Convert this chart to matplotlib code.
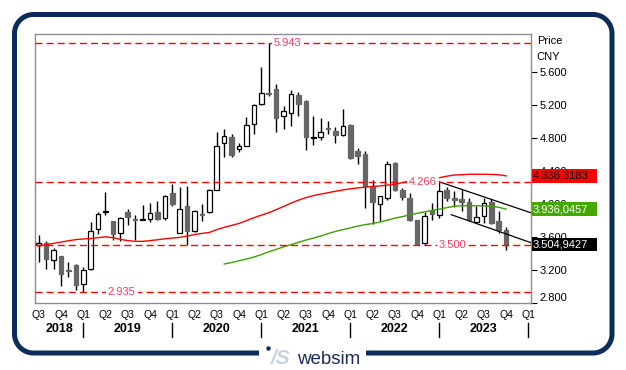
import numpy as np
import matplotlib
matplotlib.use("Agg")
import matplotlib.pyplot as plt
from matplotlib.patches import Rectangle
from matplotlib.transforms import blended_transform_factory

plt.rcParams['font.family'] = ['Liberation Sans', 'DejaVu Sans']

# ---------------- data (monthly candles, Jul 2018 .. Oct 2023) ----------------
opens = [3.505, 3.528, 3.326, 3.374, 3.200, 3.265, 3.024, 3.217, 3.697, 3.902,
         3.788, 3.648, 3.906, 3.812, 3.806, 3.817, 3.897, 3.833, 4.127, 3.648,
         3.978, 3.676, 3.870, 3.902, 4.171, 4.735, 4.811, 4.663, 4.703, 4.965,
         5.206, 5.346, 5.395, 5.057, 5.098, 5.319, 5.246, 4.798, 4.808, 4.912,
         4.884, 4.827, 4.956, 4.642, 4.606, 4.211, 3.999, 4.071, 4.494, 4.163,
         4.071, 3.809, 3.528, 3.930, 3.861, 4.171, 4.071, 4.063, 4.018, 3.785,
         3.849, 4.023, 3.797, 3.688]
highs = [3.628, 3.547, 3.467, 3.374, 3.298, 3.274, 3.233, 3.781, 3.897, 4.139,
         3.797, 3.837, 3.938, 3.861, 3.990, 4.011, 4.038, 4.107, 4.240, 4.199,
         4.220, 3.930, 3.998, 4.180, 4.875, 4.904, 4.844, 4.735, 5.053, 5.206,
         5.657, 5.943, 5.448, 5.186, 5.379, 5.351, 5.255, 5.065, 5.037, 5.005,
         4.928, 5.150, 4.968, 4.675, 4.642, 4.292, 4.099, 4.513, 4.501, 4.192,
         4.131, 3.809, 3.902, 4.011, 4.266, 4.204, 4.151, 4.171, 4.071, 3.970,
         4.071, 4.059, 3.909, 3.716]
lows = [3.293, 3.214, 3.206, 3.003, 3.117, 2.963, 2.935, 3.205, 3.640, 3.869,
        3.559, 3.555, 3.749, 3.567, 3.801, 3.785, 3.801, 3.809, 3.970, 3.648,
        3.499, 3.656, 3.797, 3.890, 4.171, 4.561, 4.561, 4.630, 4.703, 4.844,
        5.194, 5.310, 4.872, 4.904, 4.936, 5.057, 4.654, 4.715, 4.775, 4.848,
        4.735, 4.815, 4.546, 4.485, 3.950, 3.761, 3.788, 4.042, 4.150, 4.050,
        3.795, 3.500, 3.507, 3.801, 3.830, 4.030, 3.962, 3.909, 3.797, 3.785,
        3.769, 3.761, 3.648, 3.447]
closes = [3.525, 3.334, 3.447, 3.153, 3.187, 3.015, 3.205, 3.676, 3.878, 3.912,
          3.636, 3.829, 3.842, 3.806, 3.812, 3.893, 3.821, 4.099, 4.002, 3.938,
          3.676, 3.918, 3.862, 4.168, 4.702, 4.822, 4.590, 4.703, 4.953, 5.198,
          5.346, 5.330, 5.044, 5.122, 5.327, 5.210, 4.808, 4.808, 4.868, 4.904,
          4.827, 4.944, 4.554, 4.573, 4.211, 4.018, 4.090, 4.482, 4.163, 4.083,
          3.809, 3.516, 3.849, 3.881, 4.159, 4.071, 4.042, 4.023, 3.801, 3.841,
          4.011, 3.769, 3.688, 3.505]

ma_red = [3.488, 3.507, 3.522, 3.537, 3.553, 3.567, 3.575, 3.580, 3.591, 3.600,
          3.591, 3.570, 3.555, 3.546, 3.546, 3.555, 3.565, 3.577, 3.586, 3.594,
          3.610, 3.628, 3.642, 3.654, 3.688, 3.716, 3.739, 3.763, 3.797, 3.831,
          3.863, 3.893, 3.930, 3.968, 4.008, 4.044, 4.075, 4.099, 4.117, 4.135,
          4.152, 4.168, 4.181, 4.193, 4.202, 4.210, 4.217, 4.226, 4.238, 4.256,
          4.274, 4.286, 4.294, 4.304, 4.316, 4.334, 4.349, 4.352, 4.358, 4.358,
          4.358, 4.356, 4.352, 4.338]
ma_green_start = 25
ma_green = [3.272, 3.290, 3.311, 3.332, 3.356, 3.386, 3.419, 3.449, 3.479, 3.507,
            3.534, 3.561, 3.585, 3.610, 3.640, 3.666, 3.688, 3.709, 3.730, 3.749,
            3.761, 3.779, 3.803, 3.827, 3.845, 3.867, 3.885, 3.903, 3.920, 3.936,
            3.954, 3.970, 3.978, 3.978, 3.978, 3.975, 3.970, 3.958, 3.936]

quarter_labels = ['Q3', 'Q4'] + ['Q1', 'Q2', 'Q3', 'Q4'] * 5 + ['Q1']
year_labels = ['2018', '2019', '2020', '2021', '2022', '2023']
year_bounds = [-0.5, 6, 18, 30, 42, 54, 66]

ref_levels = [5.943, 4.266, 3.500, 2.935]
ref_texts = ['5.943', '4.266', '3.500', '2.935']

channel_upper_x = [54.0, 66.4]
channel_upper_y = [4.266, 3.890]
channel_lower_x = [55.6, 66.4]
channel_lower_y = [3.869, 3.528]

last_values = [4.338, 3.936, 3.505]
last_texts = ['4.338,3183', '3.936,0457', '3.504,9427']
last_colors = ['#ff0000', '#44a800', '#000000']
last_text_colors = ['#000000', '#ffffff', '#ffffff']

y_ticks = [2.8, 3.2, 3.6, 4.0, 4.4, 4.8, 5.2, 5.6]

# ---------------- figure ----------------
W, H = 626, 370
fig = plt.figure(figsize=(W / 100, H / 100), dpi=100)
fig.patch.set_facecolor('white')

# overlay for frame and logo (pixel coordinates)
ov = fig.add_axes([0, 0, 1, 1])
ov.set_xlim(0, W)
ov.set_ylim(H, 0)
ov.axis('off')

x0, x1, y0, y1, r = 14.5, 612.0, 14.5, 353.0, 19.0
gap_l, gap_r = 259, 366


def arc(cx, cy, a0, a1):
    aa = np.linspace(a0, a1, 20)
    return [(cx + r * np.cos(a), cy + r * np.sin(a)) for a in aa]


pts = [(gap_l, y1)]
pts += arc(x0 + r, y1 - r, np.pi / 2, np.pi)
pts += arc(x0 + r, y0 + r, np.pi, 1.5 * np.pi)
pts += arc(x1 - r, y0 + r, 1.5 * np.pi, 2 * np.pi)
pts += arc(x1 - r, y1 - r, 0, np.pi / 2)
pts += [(gap_r, y1)]
px, py = zip(*pts)
ov.plot(px, py, color='#0c2c5c', lw=3.6, solid_capstyle='butt', solid_joinstyle='round')

ov.plot([268.3], [348.3], marker='o', ms=3.2, color='#0c2c5c', mec='none')
ov.text(270.5, 364.5, '/S', fontsize=15, fontweight='bold', fontstyle='italic',
        color='#c8d2df', ha='left', va='baseline')
ov.text(297.5, 364.5, 'websim', fontsize=13.5, color='#1c2c5a', ha='left', va='baseline')

# main axes
ax = fig.add_axes([35 / W, (H - 303) / H, 496 / W, 269 / H])
ax.set_xlim(-0.5, 66.35)
ax.set_ylim(2.807, 6.055)
for sp in ax.spines.values():
    sp.set_color('#8c8c9c')
    sp.set_linewidth(1.0)

n = len(opens)
idx = np.arange(n)
w = 0.62
minh = 0.012
for i in idx:
    o, h, l, c = opens[i], highs[i], lows[i], closes[i]
    up = c >= o
    ax.vlines(i, l, h, color='black', lw=1.0, zorder=2)
    bot = min(o, c)
    hh = max(abs(c - o), minh)
    if up:
        rect = Rectangle((i - w / 2, bot), w, hh, facecolor='white',
                         edgecolor='black', lw=0.9, zorder=3)
    else:
        rect = Rectangle((i - w / 2, bot), w, hh, facecolor='#666666',
                         edgecolor='#666666', lw=0.9, zorder=3)
    ax.add_patch(rect)

# moving averages
ax.plot(idx, ma_red, color='#ff0000', lw=1.0, zorder=4)
gidx = np.arange(ma_green_start, ma_green_start + len(ma_green))
ax.plot(gidx, ma_green, color='#3aa000', lw=1.0, zorder=4)

# channel
ax.plot(channel_upper_x, channel_upper_y, color='black', lw=0.9, zorder=4)
ax.plot(channel_lower_x, channel_lower_y, color='black', lw=0.9, zorder=4)

# reference levels
ref_label_x = [31.7, 49.9, 53.9, 9.3]
for lvl, txt, lx in zip(ref_levels, ref_texts, ref_label_x):
    ax.axhline(lvl, color='#ff0000', lw=1.0, ls=(0, (5, 3)), zorder=4)
    ax.text(lx, lvl, txt, color='#ff3a5c', fontsize=8, va='center', ha='left',
            zorder=4.5, bbox=dict(facecolor='white', edgecolor='none', pad=1.5))

# y axis on right
ax.yaxis.tick_right()
ax.set_yticks(y_ticks)
ax.set_yticklabels([f'{v:.3f}' for v in y_ticks])
ax.tick_params(axis='y', right=True, left=False, length=4, width=0.8,
               pad=2, labelsize=8, colors='black')
ax.get_yticklabels()[0].set_va('bottom')

# x axis
ax.set_xticks(np.arange(0, 67, 3))
ax.set_xticklabels(quarter_labels)
ax.tick_params(axis='x', length=0, pad=5, labelsize=7.5)

tb = blended_transform_factory(ax.transData, ax.transAxes)
for k, lab in enumerate(year_labels):
    cx = (year_bounds[k] + year_bounds[k + 1]) / 2
    ax.text(cx, -0.098, lab, transform=tb, ha='center', va='center',
            fontsize=9, fontweight='bold', clip_on=False)
for b in year_bounds[1:]:
    ax.plot([b, b], [-0.073, -0.125], transform=tb, color='black', lw=1.0,
            clip_on=False)

# last value boxes
tr = blended_transform_factory(ax.transAxes, ax.transData)
bh = 0.163
for v, txt, fc, tc in zip(last_values, last_texts, last_colors, last_text_colors):
    ax.add_patch(Rectangle((1.0015, v - bh / 2), 0.132, bh, transform=tr,
                           facecolor=fc, edgecolor='none', clip_on=False, zorder=10))
    ax.text(1.004, v, txt, transform=tr, ha='left', va='center', fontsize=8,
            color=tc, clip_on=False, zorder=11)

fig.text(537 / W, 1 - 41.5 / H, 'Price', fontsize=8, va='center', ha='left')
fig.text(536.5 / W, 1 - 57 / H, 'CNY', fontsize=8, va='center', ha='left')

fig.savefig('out.png', dpi=100)
